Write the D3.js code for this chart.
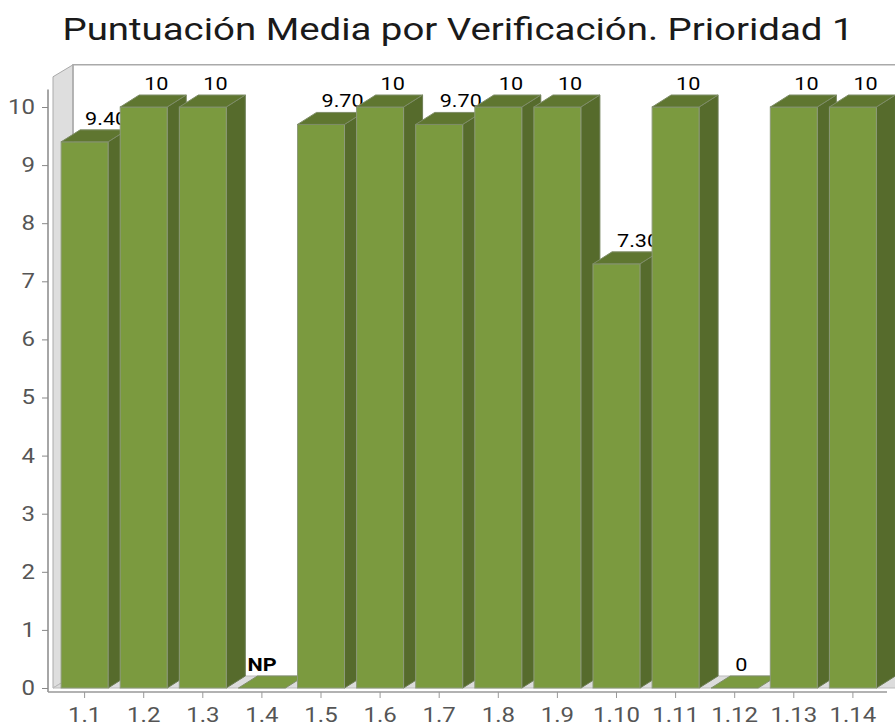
<!DOCTYPE html>
<html>
<head>
<meta charset="utf-8">
<script src="https://cdn.jsdelivr.net/npm/d3@7"></script>
<style>
  body { margin: 0; background: #fff; }
  svg { display: block; font-family: Roboto, sans-serif; }
</style>
</head>
<body>
<svg id="chart"></svg>
<script>
const categories = ["1.1", "1.2", "1.3", "1.4", "1.5", "1.6", "1.7", "1.8", "1.9", "1.10", "1.11", "1.12", "1.13", "1.14"];
// null = NP (no procede)
const scores = [9.4, 10, 10, null, 9.7, 10, 9.7, 10, 10, 7.3, 10, 0, 10, 10];
const valueLabels = ["9.40", "10", "10", "NP", "9.70", "10", "9.70", "10", "10", "7.30", "10", "0", "10", "10"];
const yTicks = [0, 1, 2, 3, 4, 5, 6, 7, 8, 9, 10];
const title = "Puntuación Media por Verificación. Prioridad 1";

const width = 895, height = 727;
const depth = { x: 19, y: -12 };
const stretch = 1.2; // text in the original is a bit wide

const svg = d3.select("#chart")
  .attr("width", width)
  .attr("height", height);

const x = d3.scaleBand()
  .domain(categories)
  .range([49, 888.5])
  .paddingInner(0.205)
  .paddingOuter(0.205);

const y = d3.scaleLinear()
  .domain([0, 10])
  .range([688, 107]);

const axisX = 48;
const wallX = 53;
const topY = y(10.52);
const pts = a => a.map(p => p.join(",")).join(" ");

// title
svg.append("text")
  .attr("transform", `translate(458,40) scale(${stretch},1)`)
  .attr("text-anchor", "middle")
  .attr("font-size", 32)
  .attr("fill", "#1a1a1a")
  .text(title);

// left side wall
svg.append("polygon")
  .attr("points", pts([
    [wallX, y(0)], [wallX, topY],
    [wallX + depth.x + 1, topY + depth.y], [wallX + depth.x + 1, y(0) + depth.y]
  ]))
  .attr("fill", "#dedede")
  .attr("stroke", "#aaa")
  .attr("stroke-width", 1);

// back wall border
svg.append("path")
  .attr("d", `M${wallX + depth.x + 1},${y(0) + depth.y}V${topY + depth.y}H${width}`)
  .attr("fill", "none")
  .attr("stroke", "#aaa")
  .attr("stroke-width", 1.5);

// floor
svg.append("polygon")
  .attr("points", pts([
    [wallX, y(0)], [wallX + depth.x + 1, y(0) + depth.y],
    [width + 20, y(0) + depth.y], [width, y(0)]
  ]))
  .attr("fill", "#dcdcdc")
  .attr("stroke", "#bbb")
  .attr("stroke-width", 1);

// y axis
const yAxis = svg.append("g")
  .attr("transform", `translate(${axisX},0)`)
  .call(d3.axisLeft(y).tickValues(yTicks).tickSize(6).tickPadding(7).tickSizeOuter(0));
yAxis.select(".domain").remove();
yAxis.selectAll(".tick line").attr("stroke", "#888");
yAxis.selectAll(".tick text")
  .attr("x", -13 / stretch)
  .attr("transform", `scale(${stretch},1)`)
  .attr("font-family", "Roboto, sans-serif")
  .attr("font-size", 20)
  .attr("fill", "#555");
svg.append("line")
  .attr("x1", axisX).attr("x2", axisX)
  .attr("y1", y(10.3)).attr("y2", y(0) + 4)
  .attr("stroke", "#888")
  .attr("stroke-width", 1.5);

// x axis
const xAxis = svg.append("g")
  .attr("transform", `translate(0,${y(0) + 4})`)
  .call(d3.axisBottom(x).tickSize(6).tickPadding(10).tickSizeOuter(0));
xAxis.select(".domain")
  .attr("d", `M${axisX},0H${width - 8}`)
  .attr("stroke", "#999")
  .attr("stroke-width", 1.5);
xAxis.selectAll(".tick line").attr("stroke", "#999");
xAxis.selectAll(".tick text")
  .attr("transform", `scale(${stretch},1)`)
  .attr("font-family", "Roboto, sans-serif")
  .attr("font-size", 20)
  .attr("fill", "#555");

// bars, drawn left to right so each bar hides the previous side and label
const bars = svg.append("g");
categories.forEach((c, i) => {
  const v = scores[i] == null ? 0 : scores[i];
  const x0 = x(c), w = x.bandwidth();
  const x1 = x0 + w;
  const yt = y(v), yb = y(0);
  const g = bars.append("g");

  if (v > 0) {
    g.append("polygon")
      .attr("points", pts([[x1, yt], [x1 + depth.x, yt + depth.y], [x1 + depth.x, yb + depth.y], [x1, yb]]))
      .attr("fill", "#566b2c")
      .attr("stroke", "#6d7d55")
      .attr("stroke-width", 1);
    g.append("rect")
      .attr("x", x0).attr("y", yt)
      .attr("width", w).attr("height", yb - yt)
      .attr("fill", "#7b9a3f")
      .attr("stroke", "#8d9a7a")
      .attr("stroke-width", 1);
  }
  g.append("polygon")
    .attr("points", pts([[x0, yt], [x0 + depth.x, yt + depth.y], [x1 + depth.x, yt + depth.y], [x1, yt]]))
    .attr("fill", v > 0 ? "#5f7630" : "#7b9a3f")
    .attr("stroke", "#7f8d68")
    .attr("stroke-width", 1);

  const isNP = scores[i] == null;
  const lx = x0 + (isNP ? 9 : 24);
  const ly = yt + depth.y - 5;
  g.append("text")
    .attr("transform", `translate(${lx},${ly}) scale(${stretch},1)`)
    .attr("text-anchor", "start")
    .attr("font-size", 18)
    .attr("font-weight", isNP ? 700 : 400)
    .attr("fill", "#000")
    .text(valueLabels[i]);
});
</script>
</body>
</html>
